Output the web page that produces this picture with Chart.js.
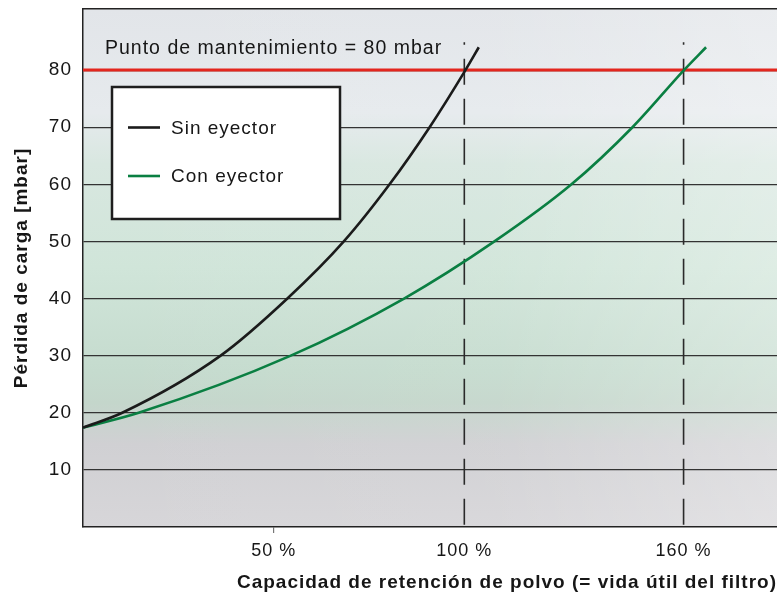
<!DOCTYPE html>
<html><head><meta charset="utf-8">
<script src="https://cdn.jsdelivr.net/npm/chart.js@4/dist/chart.umd.min.js"></script>
<style>html,body{margin:0;padding:0;background:#fff}#wrap{width:777px;height:594px}</style>
</head><body><div id="wrap"><canvas id="c" width="777" height="594"></canvas></div>
<script>
// ---- data ----
const seriesNames = ['Sin eyector', 'Con eyector'];
const sinX = [0, 10.3, 36.1, 53.6, 68.4, 80.4, 90.9, 100.3, 103.8];
const sinY = [17.4, 20, 30, 40, 50, 60, 70, 80, 84];
const conX = [0, 14.6, 54.5, 84.2, 107.9, 128.1, 144.1, 157.6, 163.4];
const conY = [17.4, 20, 30, 40, 50, 60, 70, 80, 84];
const yTickValues = [10, 20, 30, 40, 50, 60, 70, 80];
const xTickValues = [50, 100, 157.5];
const xTickLabels = ['50 %', '100 %', '160 %'];
const dashedX = [100, 157.5];
const dashedTop = 84.86;
const limitValue = 80;
const limitLabel = 'Punto de mantenimiento = 80 mbar';
const xTitle = 'Capacidad de retención de polvo (= vida útil del filtro)';
const yTitle = 'Pérdida de carga [mbar]';
const xRange = [0, 182];
const yRange = [0, 90.7];

const FAM = '"Liberation Sans", Arial, Helvetica, sans-serif';
const TXT = '#161616';
const zip = (xs, ys) => xs.map((x, i) => ({x: x, y: ys[i]}));

const bgPlugin = {
  id: 'bg',
  beforeDraw(chart) {
    const {ctx, chartArea: a} = chart;
    ctx.save();
    const g = ctx.createLinearGradient(0, a.top, 0, a.bottom);
    g.addColorStop(0.00, '#e2e5e9');
    g.addColorStop(0.20, '#e6eaed');
    g.addColorStop(0.30, '#d8e7e0');
    g.addColorStop(0.50, '#d0e5d9');
    g.addColorStop(0.70, '#c5dbce');
    g.addColorStop(0.76, '#c4d6cb');
    g.addColorStop(0.84, '#d0d0d3');
    g.addColorStop(1.00, '#d7d6d9');
    ctx.fillStyle = g;
    ctx.fillRect(a.left, a.top, a.right - a.left, a.bottom - a.top);
    const h = ctx.createLinearGradient(a.left, 0, a.right, 0);
    h.addColorStop(0, 'rgba(255,255,255,0)');
    h.addColorStop(0.6, 'rgba(255,255,255,0.06)');
    h.addColorStop(1, 'rgba(255,255,255,0.3)');
    ctx.fillStyle = h;
    ctx.fillRect(a.left, a.top, a.right - a.left, a.bottom - a.top);
    ctx.restore();
    ctx.letterSpacing = '1px';
  }
};

const overlayPlugin = {
  id: 'overlay',
  afterDatasetsDraw(chart) {
    const {ctx, chartArea: a} = chart;
    ctx.save();
    ctx.letterSpacing = '1px';
    ctx.fillStyle = TXT;
    ctx.font = '19.5px ' + FAM;
    ctx.textAlign = 'left';
    ctx.textBaseline = 'alphabetic';
    ctx.fillText(limitLabel, a.left + 22, a.top + 44.5);
    const bx = a.left + 29, by = a.top + 78, bw = 228, bh = 132;
    ctx.fillStyle = '#ffffff';
    ctx.fillRect(bx, by, bw, bh);
    ctx.strokeStyle = '#1e1e1e';
    ctx.lineWidth = 2.5;
    ctx.strokeRect(bx, by, bw, bh);
    ctx.font = '19px ' + FAM;
    ctx.textBaseline = 'middle';
    seriesNames.forEach((name, i) => {
      const ds = chart.data.datasets[i];
      const yy = by + 40.5 + i * 48.5;
      ctx.strokeStyle = ds.borderColor;
      ctx.lineWidth = 2.6;
      ctx.beginPath();
      ctx.moveTo(bx + 16, yy);
      ctx.lineTo(bx + 48, yy);
      ctx.stroke();
      ctx.fillStyle = TXT;
      ctx.fillText(name, bx + 59, yy + 1);
    });
    ctx.restore();
  }
};

const datasets = [
  {label: seriesNames[0], data: zip(sinX, sinY), borderColor: '#1b1b1b', borderWidth: 2.6,
   pointRadius: 0, cubicInterpolationMode: 'monotone', fill: false},
  {label: seriesNames[1], data: zip(conX, conY), borderColor: '#0a7f42', borderWidth: 2.6,
   pointRadius: 0, cubicInterpolationMode: 'monotone', fill: false}
];
dashedX.forEach(v => datasets.push({
  label: 'dash', data: [{x: v, y: dashedTop}, {x: v, y: yRange[0]}],
  borderColor: '#2a2a2a', borderWidth: 1.6, borderDash: [26, 14], borderDashOffset: 23.7,
  pointRadius: 0, fill: false
}));
datasets.push({
  label: 'limit', data: [{x: xRange[0], y: limitValue}, {x: xRange[1], y: limitValue}],
  borderColor: '#e3261e', borderWidth: 3, pointRadius: 0, fill: false
});

new Chart(document.getElementById('c'), {
  type: 'line',
  data: {datasets: datasets},
  options: {
    responsive: false,
    devicePixelRatio: 1,
    animation: false,
    layout: {padding: {top: 9, left: 0, right: 0, bottom: 0}},
    plugins: {legend: {display: false}, tooltip: {enabled: false}},
    scales: {
      x: {
        type: 'linear', position: 'bottom', min: xRange[0], max: xRange[1],
        afterBuildTicks: s => { s.ticks = xTickValues.map(v => ({value: v})); },
        afterFit: s => { s.height = 67; s.paddingLeft = 0; s.paddingRight = 0; },
        grid: {drawOnChartArea: false, drawTicks: true, tickLength: 6, lineWidth: 1.2,
               tickColor: c => c.index === 0 ? '#777' : 'rgba(0,0,0,0)'},
        border: {display: true, color: '#222', width: 1.5},
        ticks: {callback: (v, i) => xTickLabels[i], font: {family: FAM, size: 18}, color: TXT,
                padding: 7, maxRotation: 0, autoSkip: false},
        title: {display: true, text: xTitle, align: 'end', font: {family: FAM, size: 19, weight: 'bold'},
                color: TXT, padding: {top: 0, bottom: 0}}
      },
      x2: {
        type: 'linear', position: 'top', min: xRange[0], max: xRange[1],
        ticks: {display: false}, grid: {display: false, drawTicks: false},
        border: {display: true, color: '#222', width: 1.5},
        afterFit: s => { s.height = 0; s.paddingLeft = 0; s.paddingRight = 0; }
      },
      y: {
        type: 'linear', min: yRange[0], max: yRange[1],
        afterBuildTicks: s => { s.ticks = yTickValues.map(v => ({value: v})); },
        afterFit: s => { s.width = 83; s.paddingTop = 0; s.paddingBottom = 0; },
        grid: {drawTicks: false, color: '#333', lineWidth: 1.2},
        border: {display: true, color: '#222', width: 1.5},
        ticks: {font: {family: FAM, size: 19}, color: TXT, padding: 11},
        title: {display: true, text: yTitle, font: {family: FAM, size: 19, weight: 'bold'},
                color: TXT, padding: {top: 10, bottom: 0}}
      }
    }
  },
  plugins: [bgPlugin, overlayPlugin]
});
</script>
</body></html>
